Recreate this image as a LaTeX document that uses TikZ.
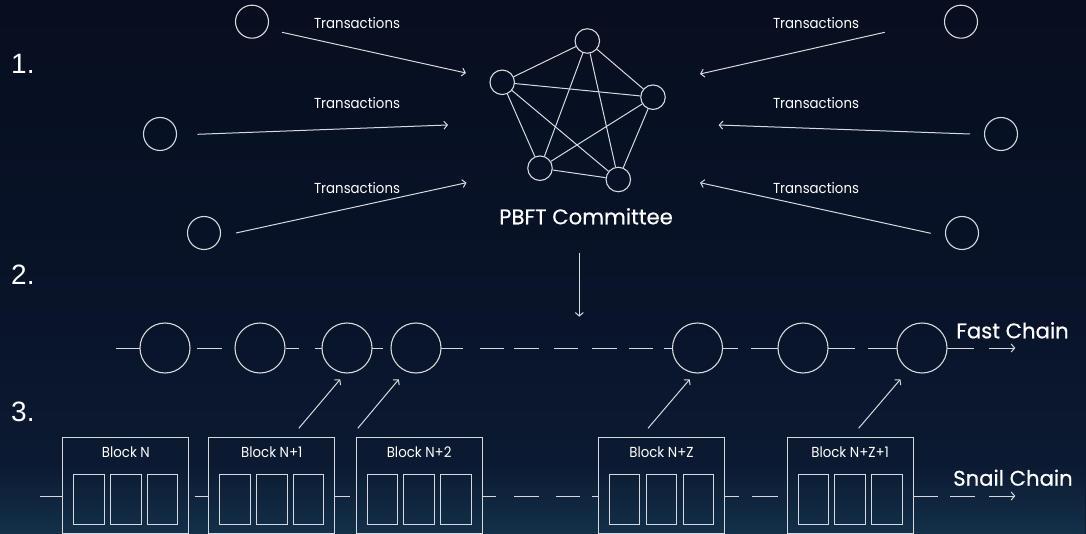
\documentclass[tikz,border=0pt]{standalone}
\usepackage{fontspec}
\setmainfont{Liberation Sans}
\newfontfamily\pop[FakeStretch=0.92]{Poppins}
\newfontfamily\popb[FakeBold=0.5]{Poppins}
\usetikzlibrary{arrows.meta,fadings}
\definecolor{bgtop}{RGB}{4,9,22}
\definecolor{bgmid}{RGB}{9,20,42}
\definecolor{bgbot}{RGB}{17,39,68}
\definecolor{haze}{RGB}{40,100,125}
\definecolor{ln}{RGB}{214,218,224}
\pgfdeclareverticalshading{bgshade}{100bp}{color(0bp)=(bgbot); color(45bp)=(bgmid); color(100bp)=(bgtop)}
\begin{document}
\begin{tikzpicture}[x=1pt,y=-1pt,
  tip/.style={-{Straight Barb[length=3.5pt,width=8pt]}},
  tx/.style={draw=ln, line width=1pt, tip},
  peer/.style={circle, draw=ln, line width=1.1pt, minimum size=33pt, inner sep=0},
  mem/.style={circle, draw=ln, line width=1.1pt, minimum size=24.5pt, inner sep=0},
  fblk/.style={circle, draw=ln, line width=1.1pt, minimum size=50pt, inner sep=0},
  sblk/.style={draw=ln, line width=1pt, minimum width=126pt, minimum height=95.5pt, inner sep=0},
  cell/.style={draw=ln, line width=1pt, minimum width=30.5pt, minimum height=50pt, inner sep=0},
  edge/.style={draw=ln, line width=1pt},
  chainl/.style={draw=ln, line width=1pt},
  small/.style={text=white, inner sep=0, font=\pop\fontsize{14.5}{16}\selectfont},
  big/.style={text=white, inner sep=0, font=\popb\fontsize{21.2}{24}\selectfont},
  num/.style={text=white, inner sep=0, anchor=base west, font=\fontsize{28}{30}\selectfont}
]
\useasboundingbox (0,0) rectangle (1086,534);
\shade[shading=bgshade] (0,0) rectangle (1086,534);
\fill[haze, path fading=north, opacity=0.28] (0,462) rectangle (1086,534);

% step numbers
\node[num] (n1) at (11,73.3) {1.};
\node[num] (n2) at (11,285) {2.};
\node[num] (n3) at (11,421.7) {3.};

% transaction sources
\node[peer] (L1) at (252,21.7) {};
\node[peer] (L2) at (160,134) {};
\node[peer] (L3) at (204,233) {};
\node[peer] (R1) at (961,21.7) {};
\node[peer] (R2) at (1001,134) {};
\node[peer] (R3) at (962,233) {};

% committee
\node[mem] (P1) at (587.3,41) {};
\node[mem] (P2) at (502.2,82.3) {};
\node[mem] (P3) at (653,97.2) {};
\node[mem] (P4) at (540,168.2) {};
\node[mem] (P5) at (618.3,179.5) {};
\foreach \a/\b in {P1/P2,P1/P3,P1/P4,P1/P5,P2/P3,P2/P4,P2/P5,P3/P4,P3/P5,P4/P5}
  \draw[edge] (\a) -- (\b);
\node[big, anchor=base west] (pbft) at (499,224.3) {PBFT Committee};

% transaction labels
\node[small, anchor=base] (tl1) at (357,28.3) {Transactions};
\node[small, anchor=base] (tl2) at (357,109) {Transactions};
\node[small, anchor=base] (tl3) at (357,193.3) {Transactions};
\node[small, anchor=base] (tr1) at (816,28.3) {Transactions};
\node[small, anchor=base] (tr2) at (816,109) {Transactions};
\node[small, anchor=base] (tr3) at (816,193.3) {Transactions};

% transaction arrows
\coordinate (aL1s) at (282,32.3);   \coordinate (aL1e) at (466,73);
\coordinate (aL2s) at (197.5,134.3);\coordinate (aL2e) at (448,125);
\coordinate (aL3s) at (236,233);    \coordinate (aL3e) at (466.5,182.7);
\coordinate (aR1s) at (884.7,32.3); \coordinate (aR1e) at (700,74);
\coordinate (aR2s) at (970,134);    \coordinate (aR2e) at (718.6,125);
\coordinate (aR3s) at (930.7,233.3);\coordinate (aR3e) at (700,182.7);
\foreach \s in {L1,L2,L3,R1,R2,R3}
  \draw[tx] (a\s s) -- (a\s e);

% committee to fast chain
\coordinate (d1) at (579.3,252.7);
\coordinate (d2) at (579.3,316.7);
\draw[tx] (d1) -- (d2);

% fast chain
\node[fblk] (F1) at (165,348) {};
\node[fblk] (F2) at (260,348) {};
\node[fblk] (F3) at (347,348) {};
\node[fblk] (F4) at (416,348) {};
\node[fblk] (F5) at (697.5,348) {};
\node[fblk] (F6) at (803,348) {};
\node[fblk] (F7) at (922,348) {};
\foreach \a/\b in {115.7/140,197/221.7,286/299,314.6/322,372/383,441/463,479.5/504,514/539,554/578,591.5/616.6,628.8/653,663.6/672.5,722.8/737.8,751/778,828.3/855,868/897,947/974}
  \draw[chainl] (\a,348) -- (\b,348);
\coordinate (fa1) at (989,348);
\coordinate (fa2) at (1015.3,348);
\draw[tx] (fa1) -- (fa2);
\node[big, anchor=base west] (fast) at (956,338.3) {Fast Chain};

% snail chain
\foreach \n/\cx/\t in {B1/125.9/Block N, B2/271.85/Block N+1, B3/419.15/Block N+2, B4/661.5/Block N+Z, B5/850.15/Block N+Z+1}{
  \node[sblk] (\n) at (\cx,485.5) {};
  \node[small, anchor=base] (\n t) at (\cx,457.7) {\t};
  \node[cell] (\n c1) at (\cx-36.8,499) {};
  \node[cell] (\n c2) at (\cx,499) {};
  \node[cell] (\n c3) at (\cx+36.8,499) {};
}
\foreach \a/\b in {40.3/63.1,194.7/208.7,335/349.7,482.3/496.3,514/539,555.7/580,591.5/598.5,724.5/738.5,752.4/777.8,913.3/938,950/975}
  \draw[chainl] (\a,496) -- (\b,496);
\coordinate (sa1) at (989,496);
\coordinate (sa2) at (1015.3,496);
\draw[tx] (sa1) -- (sa2);
\node[big, anchor=base west] (snail) at (953,485.7) {Snail Chain};

% snail blocks to fast blocks
\coordinate (s2) at (298.8,428.3); \coordinate (e2) at (340.2,379.3);
\coordinate (s3) at (357.8,428.3); \coordinate (e3) at (398.8,379.3);
\coordinate (s4) at (648,428.3);   \coordinate (e4) at (689.7,379.3);
\coordinate (s5) at (858.6,428.3); \coordinate (e5) at (900.4,379.3);
\foreach \i in {2,3,4,5}
  \draw[tx] (s\i) -- (e\i);
\end{tikzpicture}
\end{document}
